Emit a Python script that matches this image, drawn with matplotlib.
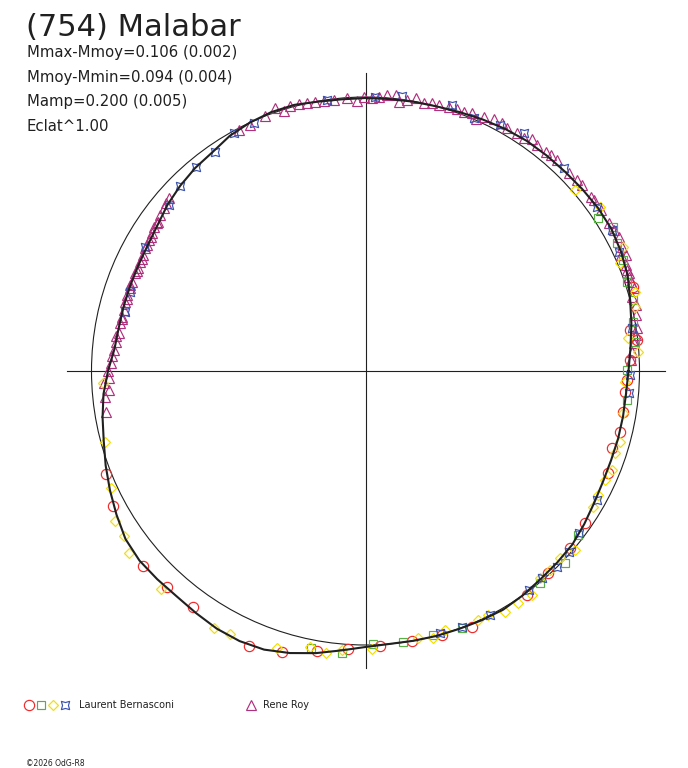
import matplotlib.pyplot as plt
from matplotlib.patches import Circle
import numpy as np


# fitted lightcurve in polar form: angle (deg, ccw from +x) and radius
curve_angle = list(range(0, 360, 5))
curve_radius = [
    263, 266, 270, 274, 279, 282, 284, 284, 283, 282, 281.5, 281,
    279.5, 277.5, 275.5, 274, 273.5, 273, 273, 272.7, 273.5, 275.5, 275.5, 274,
    271.5, 267, 265, 262, 258.5, 254, 251.5, 250.5, 250.3, 250.3, 250.5, 252,
    257.5, 263, 267, 271, 276.5, 282, 287.5, 293, 295, 294.5, 294, 295.5,
    297.5, 298, 296.5, 292, 286.5, 280.5, 276, 274, 274, 274.3, 274.4, 275,
    275.5, 274, 272, 271, 270, 267, 264, 262, 261.3, 261.5, 261.5, 261.5,
]
ref_radius = 274

# observations (x, y) relative to the centre
roy_pts = [
    (-262, -12), (-257, -19), (-261, -26), (-260, -41), (-257, -7), (-255, 8),
    (-252, 21), (-250, 29), (-247, 38), (-246, 48), (-244, 54), (-242, 61),
    (-241, 69), (-239, 76), (-236, 83), (-234, 89), (-231, 98), (-228, 103),
    (-226, 109), (-223, 116), (-221, 123), (-217, 131), (-214, 138), (-212, 144),
    (-208, 149), (-206, 156), (-202, 163), (-197, 173), (-258, 0), (-254, 15),
    (-250, 35), (-244, 52), (-239, 72), (-236, 86), (-229, 100), (-224, 112),
    (-219, 126), (-215, 134), (-209, 148), (-200, 168),
    (-127, 241), (-116, 246), (-101, 255), (-91, 263), (-82, 260), (-76, 265),
    (-67, 267), (-59, 268), (-51, 269), (-42, 270), (-32, 271), (-19, 273),
    (-9, 270), (-2, 274), (6, 273), (13, 274), (21, 276), (30, 276), (33, 269),
    (41, 271), (50, 273), (58, 268), (66, 268), (73, 266), (83, 264), (91, 262),
    (98, 259), (106, 258), (110, 252), (118, 254), (128, 252), (136, 248),
    (141, 243), (151, 238), (158, 233), (166, 232), (171, 226), (180, 219),
    (185, 216), (191, 211), (203, 198), (211, 191), (216, 186), (225, 174),
    (228, 171), (235, 161), (243, 148), (248, 141), (253, 134), (256, 124),
    (260, 116), (261, 101), (263, 94), (255, 116), (260, 106), (263, 98),
    (265, 89), (268, 83), (266, 74), (270, 66), (270, 56), (271, 43),
    (270, 36), (268, 28), (266, 19), (265, 11),
]
lb_circle_pts = [
    (267.5, 84), (264.5, 41), (271.5, 31), (264.5, 11), (261.5, -9), (259.5, -21),
    (257.5, -41), (254.5, -61), (246.5, -77), (242.5, -102), (219.5, -152),
    (204.5, -177), (182.5, -202), (161.5, -224), (106.5, -256), (76.5, -264),
    (46.5, -270), (14.5, -275), (-17.5, -278), (-48.5, -280), (-83.5, -281),
    (-116.5, -275), (-172.5, -236), (-198.5, -216), (-222.5, -195),
    (-252.5, -135), (-259.5, -103),
]
lb_square_pts = [
    (232.5, 153), (247.5, 144), (251.5, 128), (257.5, 111), (261.5, 89),
    (267.5, 71), (267.5, 49), (269.5, 29), (261.5, 1), (261.5, -29),
    (212.5, -164), (199.5, -192), (174.5, -212), (96.5, -257), (67.5, -264),
    (37.5, -271), (7.5, -273), (-23.5, -282), (-54.5, -277),
]
lb_diamond_pts = [
    (209.5, 181), (234.5, 164), (257.5, 124), (254.5, 108), (269.5, 79),
    (269.5, 64), (262.5, 33), (272.5, 19), (259.5, -11), (257.5, -42),
    (254.5, -71), (249.5, -82), (246.5, -99), (239.5, -109), (232.5, -124),
    (227.5, -136), (209.5, -179), (194.5, -187), (184.5, -199), (174.5, -207),
    (166.5, -224), (152.5, -232), (139.5, -241), (122.5, -244), (112.5, -249),
    (79.5, -259), (67.5, -267), (52.5, -267), (6.5, -278), (-23.5, -279),
    (-39.5, -282), (-55.5, -276), (-88.5, -277), (-135.5, -263), (-151.5, -257),
    (-204.5, -218), (-236.5, -182), (-241.5, -165), (-250.5, -150),
    (-254.5, -117), (-260.5, -71), (-262.5, -12),
]
lb_star_pts = [
    (-240.5, 59), (-235.5, 79), (-220.5, 124), (-197, 166), (-185.5, 185),
    (-169.5, 204), (-150.5, 219), (-132, 238), (-112, 248), (-39, 271),
    (9.5, 274), (36, 275), (86, 266), (108, 253), (134.5, 246), (158, 238),
    (198, 203), (231, 164), (246, 141), (253, 119), (266, 43), (264.5, -4),
    (263, -22), (231, -129), (213, -162), (203, -181), (191, -196), (176, -207),
    (163, -219), (124.5, -244), (96, -256), (74.5, -262),
]

title = "(754) Malabar"
info_lines = [
    "Mmax-Mmoy=0.106 (0.002)",
    "Mmoy-Mmin=0.094 (0.004)",
    "Mamp=0.200 (0.005)",
    "Eclat^1.00",
]
observers = ["Laurent Bernasconi", "Rene Roy"]

RED = "#EE2A2A"
GREEN = "#58B044"
YELLOW = "#F2DF00"
BLUE = "#3A52AE"
MAGENTA = "#B0307E"
INK = "#202020"

styles = {
    "circle": dict(marker="o", ms=7.4, mec=RED),
    "square": dict(marker="s", ms=5.8, mec=GREEN),
    "diamond": dict(marker="D", ms=5.0, mec=YELLOW),
    "star": dict(marker=(4, 1, 45), ms=8.5, mec=BLUE),
    "triangle": dict(marker="^", ms=7.2, mec=MAGENTA),
}

fig = plt.figure(figsize=(6.88, 7.68), dpi=100)

# main plot, 1 data unit = 1 pixel, centre at pixel (365.5, 371)
ax = fig.add_axes([45.5 / 688, 77 / 768, 640 / 688, 640 / 768])
ax.set_xlim(-320, 320)
ax.set_ylim(-320, 320)
ax.axis("off")

ax.plot([-298.5, 299.5], [0, 0], color=INK, lw=0.8, zorder=1)
ax.plot([0, 0], [-297, 298], color=INK, lw=0.8, zorder=1)
ax.add_patch(Circle((0, 0), ref_radius, fill=False, ec=INK, lw=0.8, zorder=2))

for pts, key in [
    (roy_pts, "triangle"),
    (lb_circle_pts, "circle"),
    (lb_square_pts, "square"),
    (lb_diamond_pts, "diamond"),
    (lb_star_pts, "star"),
]:
    xy = np.array(pts)
    ax.plot(xy[:, 0], xy[:, 1], ls="none", mfc="none", mew=0.85,
            zorder=3, **styles[key])

theta = np.deg2rad(curve_angle + [curve_angle[0]])
rad = np.array(curve_radius + [curve_radius[0]])
ax.plot(rad * np.cos(theta), rad * np.sin(theta), color=INK, lw=1.5,
        solid_joinstyle="round", zorder=4)

# overlay in pixel coordinates for the texts and the legend
ov = fig.add_axes([0, 0, 1, 1])
ov.set_xlim(0, 688)
ov.set_ylim(768, 0)
ov.axis("off")

ov.text(26, 36, title, fontsize=22, color=INK, family="DejaVu Sans")
for i, line in enumerate(info_lines):
    ov.text(27, 57 + 24.7 * i, line, fontsize=10.7, color=INK,
            family="DejaVu Sans")

for x, key in [(29, "circle"), (41, "square"), (53, "diamond"), (65, "star")]:
    ov.plot([x], [705], ls="none", mfc="none", mew=0.85, **styles[key])
ov.plot([251], [705], ls="none", mfc="none", mew=0.85, **styles["triangle"])
ov.text(79, 705, observers[0], fontsize=7, color=INK, va="center")
ov.text(263, 705, observers[1], fontsize=7, color=INK, va="center")
ov.text(26, 763, "\u00a92026 OdG-R8", fontsize=5.5, color=INK, va="center")

fig.savefig("out.png", dpi=100)
